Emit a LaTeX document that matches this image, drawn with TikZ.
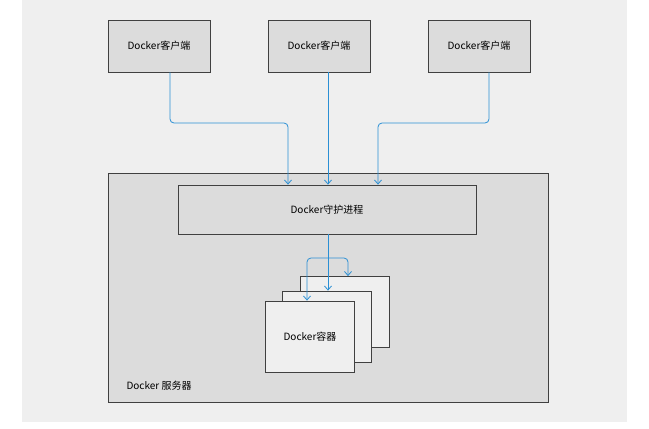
\documentclass[tikz,border=0pt]{standalone}
\usepackage{fontspec}
\setmainfont{Noto Sans CJK SC}
\usetikzlibrary{arrows.meta,positioning}
\definecolor{lineblue}{HTML}{2A8FD4}
\definecolor{boxgray}{HTML}{DCDCDC}
\definecolor{bggray}{HTML}{EFEFEF}
\tikzset{
  box/.style={draw=black!75,fill=boxgray,line width=0.8pt,inner sep=0pt,font=\fontsize{10}{12}\selectfont},
  client/.style={box,minimum width=102pt,minimum height=52pt},
  ctr/.style={box,fill=bggray,minimum width=89pt,minimum height=71pt},
  link/.style={draw=lineblue,line width=0.8pt,rounded corners=4pt,-{Straight Barb[length=4pt,width=7pt]}}
}
\begin{document}
\begin{tikzpicture}[x=1pt,y=-1pt]
\useasboundingbox (0,0) rectangle (649,429);
\fill[bggray] (22,0) rectangle (627,422);

\node[client] (c1) at (159,46) {Docker客户端};
\node[client] (c2) at (319,46) {Docker客户端};
\node[client] (c3) at (479,46) {Docker客户端};

\node[box,minimum width=440pt,minimum height=229pt] (srv) at (328,287.5) {};
\node[anchor=west,font=\fontsize{10}{12}\selectfont] (srvl) at (123,386) {Docker 服务器};
\node[box,minimum width=298pt,minimum height=49pt] (dmn) at (327,209.5) {Docker守护进程};

% container stack
\node[ctr] (k3) at (344.5,312) {};
\node[ctr] (k2) at (327,326.5) {};
\node[ctr] (k1) at (310,336.5) {Docker容器};

% clients to daemon
\draw[link] (c1.south -| 170,0) |- (288,123) -- (dmn.north -| 288,0);
\draw[link] (c2.south -| 328,0) -- (dmn.north -| 328,0);
\draw[link] (c3.south -| 489,0) |- (378,123) -- (dmn.north -| 378,0);

% daemon to containers
\coordinate (br) at (328,258);
\draw[link] (dmn.south -| 328,0) -- (k2.north -| 328,0);
\draw[link] (br) -| (k1.north -| 307,0);
\draw[link] (br) -| (k3.north -| 348,0);
\end{tikzpicture}
\end{document}
